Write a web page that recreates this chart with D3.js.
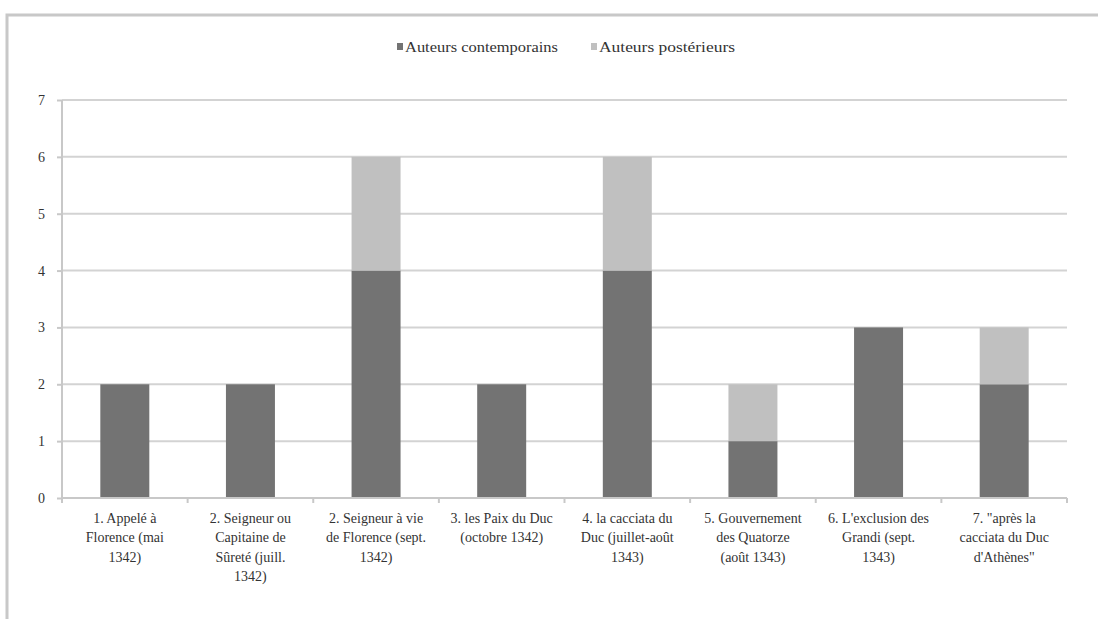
<!DOCTYPE html>
<html><head><meta charset="utf-8">
<script src="https://cdn.jsdelivr.net/npm/d3@7"></script>
<style>body{margin:0;background:#fff}svg{display:block}svg text{font-family:"Liberation Serif","Times New Roman",Times,Tinos,"DejaVu Serif","Noto Serif",FreeSerif,serif}</style>
</head><body>
<svg id="c" width="1098" height="619"></svg>
<script>
const categories = [
  ["1. Appelé à","Florence (mai","1342)"],
  ["2. Seigneur ou","Capitaine de","Sûreté (juill.","1342)"],
  ["2. Seigneur à vie","de Florence (sept.","1342)"],
  ["3. les Paix du Duc","(octobre 1342)"],
  ["4. la cacciata du","Duc (juillet-août","1343)"],
  ["5. Gouvernement","des Quatorze","(août 1343)"],
  ["6. L'exclusion des","Grandi (sept.","1343)"],
  ["7. \"après la","cacciata du Duc","d'Athènes\""]
];
const contemporains = [2,2,4,2,4,1,3,2];
const posterieurs = [0,0,2,0,2,1,0,1];
const seriesNames = ["Auteurs contemporains","Auteurs postérieurs"];
const seriesColors = ["#737373","#c0c0c0"];
const yTicks = [0,1,2,3,4,5,6,7];

(function(){
const svg = d3.select("#c");
svg.append("path").attr("d","M7,619 V15 H1098").attr("fill","none").attr("stroke","#c8c8c8").attr("stroke-width",3);

const pL = 62, pR = 1067, pT = 100, pB = 498;
const x = d3.scaleBand().domain(d3.range(categories.length)).range([pL,pR]).paddingInner(0).paddingOuter(0);
const y = d3.scaleLinear().domain([0,7]).range([pB,pT]);
const bw = x.bandwidth()*0.39;

svg.append("g").selectAll("line").data(yTicks.filter(d=>d>0)).join("line")
  .attr("x1",pL).attr("x2",pR).attr("y1",d=>y(d)).attr("y2",d=>y(d))
  .attr("stroke","#d3d3d3").attr("stroke-width",2);

const rows = categories.map((c,i)=>({i, a:contemporains[i], b:posterieurs[i]}));
const stack = d3.stack().keys(["a","b"])(rows);
stack.forEach((layer,k)=>{
  svg.append("g").selectAll("rect").data(layer.filter(d=>d[1]>d[0])).join("rect")
    .attr("x",d=>x(d.data.i)+x.bandwidth()/2-bw/2)
    .attr("width",bw)
    .attr("y",d=>y(d[1]))
    .attr("height",d=>y(d[0])-y(d[1]))
    .attr("fill",seriesColors[k]);
});

const ya = svg.append("g").attr("transform",`translate(${pL},0)`)
  .call(d3.axisLeft(y).tickValues(yTicks).tickSize(5).tickPadding(12).tickFormat(d3.format("d")));
ya.attr("font-family",null);
ya.select(".domain").attr("stroke","#c8c8c8").attr("stroke-width",2).attr("d",`M0,${pT}V${pB}`);
ya.selectAll(".tick line").attr("stroke","#c8c8c8").attr("stroke-width",2);
ya.selectAll("text").attr("font-size",14).attr("fill","#333");

const xa = svg.append("g").attr("transform",`translate(0,${pB})`);
xa.append("line").attr("x1",pL).attr("x2",pR).attr("stroke","#c8c8c8").attr("stroke-width",2);
xa.selectAll("line.tk").data(d3.range(categories.length+1)).join("line").attr("class","tk")
  .attr("x1",d=>pL+d*x.bandwidth()).attr("x2",d=>pL+d*x.bandwidth()).attr("y1",0).attr("y2",5)
  .attr("stroke","#c8c8c8").attr("stroke-width",2);
categories.forEach((lines,i)=>{
  const t = xa.append("text").attr("font-size",14).attr("fill","#333")
    .attr("text-anchor","middle");
  lines.forEach((l,j)=>t.append("tspan").attr("x",x(i)+x.bandwidth()/2).attr("y",25+j*19.3).text(l));
});

const lg = svg.append("g").attr("font-size",14).attr("fill","#333");
const legX = [397, 591];
const legW = [153, 136];
seriesNames.forEach((n,k)=>{
  lg.append("rect").attr("x",legX[k]).attr("y",43).attr("width",6).attr("height",7).attr("fill",seriesColors[k]);
  lg.append("text").attr("x",legX[k]+8).attr("y",52).attr("textLength",legW[k]).attr("lengthAdjust","spacingAndGlyphs").text(n);
});
})();
</script>
</body></html>
